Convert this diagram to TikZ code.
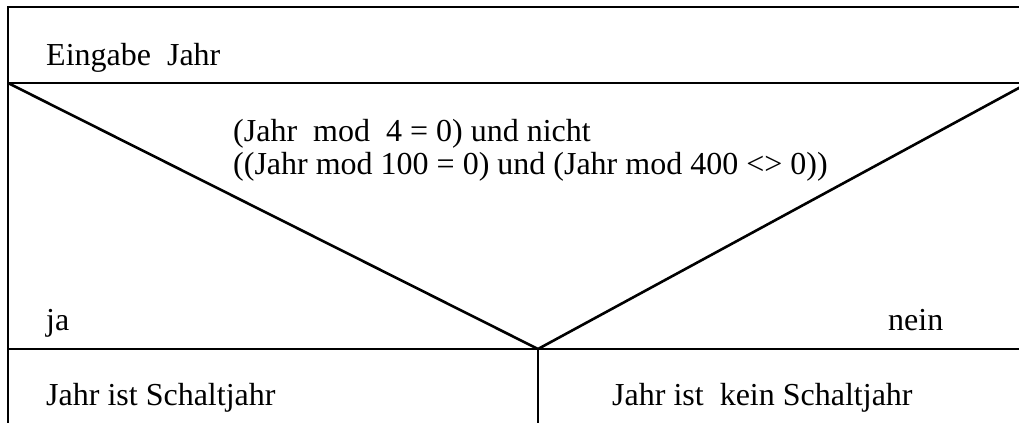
\documentclass[tikz,border=0pt]{standalone}
\usepackage{fontspec}
\setmainfont{Liberation Serif}
\usetikzlibrary{positioning}
\tikzset{
  struct/.style={draw=black, line width=2.6pt},
  nstext/.style={anchor=base west, inner sep=0pt, font=\fontsize{32}{35}\selectfont}
}

\begin{document}
\begin{tikzpicture}[x=1pt, y=-1pt]
  \useasboundingbox (0,0) rectangle (1019,423);
  \clip (0,0) rectangle (1019,423);
  % corners of the block
  \coordinate (tl) at (8,7);
  \coordinate (tr) at (1019,7);
  \coordinate (ml) at (8,83);
  \coordinate (mr) at (1019,83);
  \coordinate (far) at (1028,83);
  \coordinate (tip) at (538,349);
  \coordinate (hl) at (8,349);
  \coordinate (hr) at (1019,349);
  \coordinate (bl) at (8,423);
  \coordinate (vb) at (538,423);
  \draw[struct] (tr) -- (tl) -- (bl);
  \draw[struct] (ml) -- (mr);
  \draw[struct] (hl) -- (hr);
  \draw[struct] (ml) -- (tip) -- (far);
  \draw[struct] (tip) -- (vb);
  % texts
  \node[nstext] (input) at (46,65) {Eingabe\ \ Jahr};
  \node[nstext] (cond1) at (233,141) {(Jahr\ \ mod\ \ 4 = 0) und nicht};
  \node[nstext] (cond2) at (233,174) {((Jahr mod 100 = 0) und (Jahr mod 400 <> 0))};
  \node[nstext] (yes) at (46,330) {ja};
  \node[nstext] (no) at (888,330) {nein};
  \node[nstext] (leap) at (46,405) {Jahr ist Schaltjahr};
  \node[nstext] (noleap) at (612,405) {Jahr ist\ \ kein Schaltjahr};
\end{tikzpicture}
\end{document}
